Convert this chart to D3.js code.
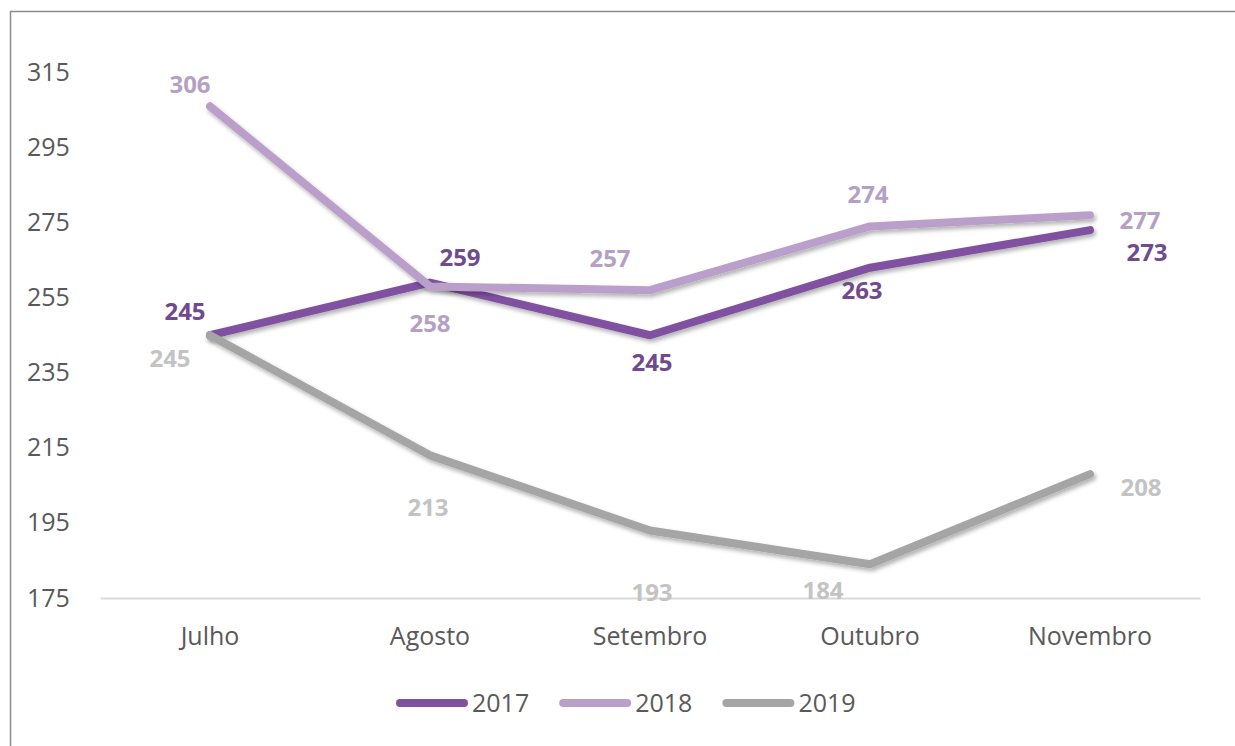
<!DOCTYPE html>
<html>
<head>
<meta charset="utf-8">
<script src="https://cdn.jsdelivr.net/npm/d3@7"></script>
<style>
  html, body { margin: 0; padding: 0; background: #ffffff; }
  svg { display: block; }
  text { font-family: "Open Sans", "Noto Sans", sans-serif; }
</style>
</head>
<body>
<svg id="chart" width="1235" height="746"></svg>
<script>
// ---- data ----
const categories = ["Julho", "Agosto", "Setembro", "Outubro", "Novembro"];
const seriesNames = ["2017", "2018", "2019"];
const values2017 = [245, 259, 245, 263, 273];
const values2018 = [306, 258, 257, 274, 277];
const values2019 = [245, 213, 193, 184, 208];
const yTicks = [175, 195, 215, 235, 255, 275, 295, 315];

// ---- style ----
const lineColors = ["#8151A1", "#BA9FCA", "#A5A5A5"];
const labelColors = ["#6F4A8C", "#B4A0C4", "#C3C3C3"];
// label offsets (dx, dy of label centre from point), per series
const labelOffsets = [
  [[-25, -24], [30, -25], [2, 27], [-8, 23], [57, 22]],
  [[-20, -22], [0, 37], [-40, -32], [-2, -32], [50, 5]],
  [[-40, 23], [-2, 52], [2, 62], [-47, 26], [51, 13]]
];

const allValues = [values2017, values2018, values2019];
const svg = d3.select("#chart");

// border (left + top visible)
svg.append("path")
  .attr("d", "M10.5,746 L10.5,11.5 L1235,11.5")
  .attr("fill", "none").attr("stroke", "#8c8c8c").attr("stroke-width", 1.5);

const x = d3.scaleBand().domain(categories).range([100, 1200]);
const y = d3.scaleLinear().domain([175, 315]).range([598, 72.5]);

const defs = svg.append("defs");
const f = defs.append("filter").attr("id", "shadow")
  .attr("x", "-10%").attr("y", "-10%").attr("width", "120%").attr("height", "130%");
f.append("feDropShadow").attr("dx", 2).attr("dy", 3).attr("stdDeviation", 2.2)
  .attr("flood-color", "#000").attr("flood-opacity", 0.3);

// y axis (labels only)
const yAxis = svg.append("g").attr("transform", "translate(75,0)")
  .call(d3.axisLeft(y).tickValues(yTicks).tickSize(0).tickPadding(0));
yAxis.select(".domain").remove();
yAxis.selectAll("text")
  .attr("x", -48).attr("text-anchor", "start")
  .style("font-family", "'Open Sans', sans-serif")
  .style("font-size", "25px").attr("fill", "#595959");

// x axis
const xAxis = svg.append("g").attr("transform", "translate(0,598)")
  .call(d3.axisBottom(x).tickSize(0).tickPadding(29));
xAxis.select(".domain").attr("stroke", "#d9d9d9").attr("stroke-width", 2);
xAxis.selectAll("text")
  .style("font-family", "'Open Sans', sans-serif")
  .style("font-size", "25px").attr("fill", "#595959");

// lines
const line = d3.line()
  .x((d, i) => x(categories[i]) + x.bandwidth() / 2)
  .y(d => y(d));

allValues.forEach((vals, s) => {
  svg.append("path")
    .datum(vals)
    .attr("d", line)
    .attr("fill", "none")
    .attr("stroke", lineColors[s])
    .attr("stroke-width", 8)
    .attr("stroke-linecap", "round")
    .attr("stroke-linejoin", "round")
    .attr("filter", "url(#shadow)");
});

// data labels
allValues.forEach((vals, s) => {
  svg.append("g").selectAll("text")
    .data(vals)
    .join("text")
    .attr("x", (d, i) => x(categories[i]) + x.bandwidth() / 2 + labelOffsets[s][i][0])
    .attr("y", (d, i) => y(d) + labelOffsets[s][i][1])
    .attr("dy", "0.35em")
    .attr("text-anchor", "middle")
    .attr("font-weight", "bold")
    .attr("font-size", "24px")
    .attr("fill", labelColors[s])
    .text(d => d);
});

// legend
const legend = svg.append("g");
let lx = 396;
const ly = 703;
seriesNames.forEach((name, s) => {
  legend.append("line")
    .attr("x1", lx + 4).attr("x2", lx + 68)
    .attr("y1", ly).attr("y2", ly)
    .attr("stroke", lineColors[s]).attr("stroke-width", 8)
    .attr("stroke-linecap", "round");
  const t = legend.append("text")
    .attr("x", lx + 76).attr("y", ly).attr("dy", "0.35em")
    .attr("font-size", "25px").attr("fill", "#595959")
    .text(name);
  const w = t.node().getComputedTextLength();
  lx = lx + 76 + w + 30;
});
</script>
</body>
</html>
